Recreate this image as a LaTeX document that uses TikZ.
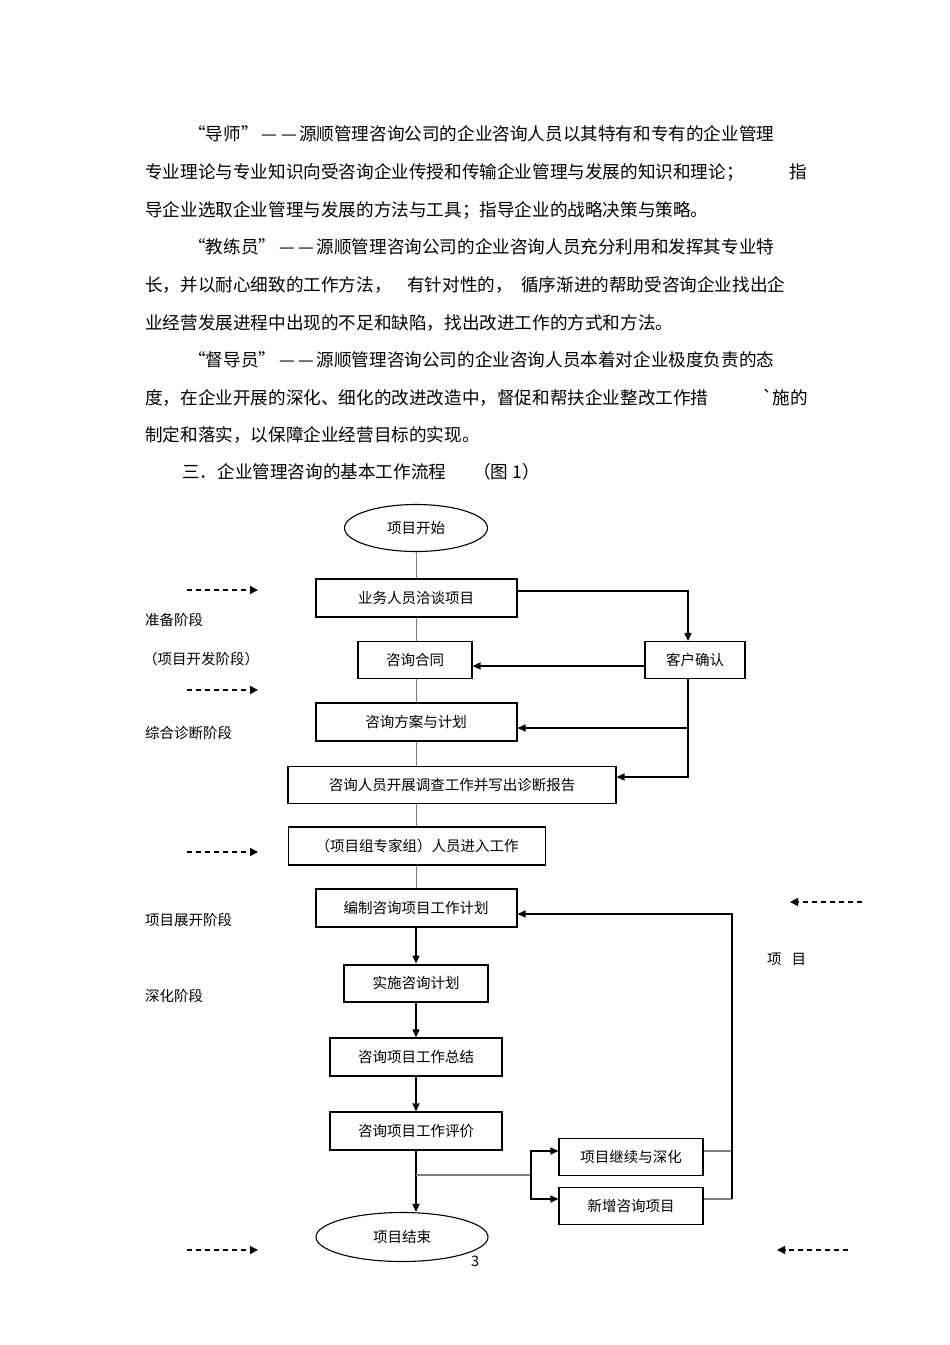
\documentclass[tikz,border=0pt]{standalone}
\usepackage{fontspec}
\setmainfont{Noto Sans CJK SC}
\usetikzlibrary{arrows.meta,shapes.geometric}

\begin{document}
\begin{tikzpicture}[x=1pt,y=-1pt,
  para/.style={anchor=west,inner sep=0pt,font=\fontsize{17.6}{20}\selectfont},
  lbl/.style={anchor=west,inner sep=0pt,font=\fontsize{14.5}{17}\selectfont},
  box/.style={draw,line width=1.1pt,inner sep=0pt,font=\fontsize{14.5}{17}\selectfont},
  heavy/.style={box,line width=2pt},
  oval/.style={ellipse,draw,line width=1.1pt,inner sep=0pt,font=\fontsize{14.5}{17}\selectfont},
  link/.style={draw=gray,line width=1pt},
  flow/.style={line width=1.5pt,-{Triangle[length=8pt,width=7pt]}},
  hint/.style={dash pattern=on 5pt off 4pt,line width=1.3pt,-{Triangle[length=8pt,width=8pt]}}]
\useasboundingbox (0,0) rectangle (950,1345);
% text above the chart
\node[para] at (188,134) (p1) {“导师”\hspace{3pt}—\hspace{4pt}—\hspace{2pt}源顺管理咨询公司的企业咨询人员以其特有和专有的企业管理};
\node[para] at (145,172) (p2) {专业理论与专业知识向受咨询企业传授和传输企业管理与发展的知识和理论；};
\node[para] at (789,172) (p2b) {指};
\node[para] at (145,210) (p3) {导企业选取企业管理与发展的方法与工具；指导企业的战略决策与策略。};
\node[para] at (188,247) (p4) {“教练员”\hspace{3pt}—\hspace{4pt}—\hspace{2pt}源顺管理咨询公司的企业咨询人员充分利用和发挥其专业特};
\node[para] at (145,285) (p5) {长，并以耐心细致的工作方法，};
\node[para] at (407,285) (p5b) {有针对性的，};
\node[para] at (521,285) (p5c) {循序渐进的帮助受咨询企业找出企};
\node[para] at (145,323) (p6) {业经营发展进程中出现的不足和缺陷，找出改进工作的方式和方法。};
\node[para] at (188,360) (p7) {“督导员”\hspace{3pt}—\hspace{4pt}—\hspace{2pt}源顺管理咨询公司的企业咨询人员本着对企业极度负责的态};
\node[para] at (145,398) (p8) {度，在企业开展的深化、细化的改进改造中，督促和帮扶企业整改工作措};
\node[para] at (762,398) (p8b) {\textasciigrave 施的};
\node[para] at (145,435) (p9) {制定和落实，以保障企业经营目标的实现。};
\node[para] at (182,472) (p10) {三．企业管理咨询的基本工作流程};
\node[para] at (473,472) (p10b) {（图 1）};

% chart
\node[oval,minimum width=143,minimum height=47] at (416,528) (start) {项目开始};
\node[heavy,minimum width=201,minimum height=38] at (416,598) (talk) {业务人员洽谈项目};
\node[box,minimum width=114,minimum height=37] at (415,660) (contract) {咨询合同};
\node[box,minimum width=100,minimum height=37] at (695,660) (confirm) {客户确认};
\node[heavy,minimum width=201,minimum height=38] at (416,722) (plan) {咨询方案与计划};
\node[box,minimum width=328,minimum height=37] at (452,785) (survey) {咨询人员开展调查工作并写出诊断报告};
\node[box,minimum width=257,minimum height=38] at (417,846) (team) {（项目组专家组）人员进入工作};
\node[heavy,minimum width=201,minimum height=38] at (416,908) (schedule) {编制咨询项目工作计划};
\node[heavy,minimum width=144,minimum height=37] at (416,983) (execute) {实施咨询计划};
\node[box,minimum width=172,minimum height=38] at (416,1057) (summary) {咨询项目工作总结};
\node[box,minimum width=172,minimum height=38] at (416,1131) (review) {咨询项目工作评价};
\node[box,minimum width=144,minimum height=37] at (631,1157) (deepen) {项目继续与深化};
\node[box,minimum width=144,minimum height=37] at (631,1206) (newproj) {新增咨询项目};
\node[oval,minimum width=172,minimum height=49] at (402,1237) (finish) {项目结束};
\node[lbl] at (471,1261) (page) {3};

% stage labels
\node[lbl] at (145,620) (s1) {准备阶段};
\node[lbl] at (143,659) (s1b) {（项目开发阶段）};
\node[lbl] at (145,733) (s2) {综合诊断阶段};
\node[lbl] at (145,920) (s3) {项目展开阶段};
\node[lbl] at (145,996) (s4) {深化阶段};
\node[lbl] at (767,959) (s5) {项\hspace{10pt}目};

% thin links
\draw[link] (start) -- (talk);
\draw[link] (talk.south) -- (talk.south |- contract.north);
\draw[link] (talk.south |- contract.south) -- (plan.north);
\draw[link] (plan.south) -- (plan.south |- survey.north);
\draw[link] (plan.south |- survey.south) -- (plan.south |- team.north);
\draw[link] (plan.south |- team.south) -- (schedule.north);

% arrows
\draw[flow] ([yshift=7pt]talk.east) -| ([xshift=-7pt]confirm.north);
\draw[flow] ([yshift=-6pt]confirm.west) -- ([yshift=-6pt]contract.east);
\draw[flow] ([xshift=-7pt]confirm.south) |- ([yshift=-6pt]plan.east);
\draw[flow] ([xshift=-7pt]confirm.south) |- ([yshift=8pt]survey.east);
\draw[flow] (schedule) -- (execute);
\draw[flow] (execute) -- (summary);
\draw[flow] (summary) -- (review);
\draw[flow] (review.south) -- (review.south |- finish.north);

\coordinate (split) at (416,1175);
\coordinate (fork) at (531,1175);
\coordinate (loop) at (732,1199);
\draw[link,line width=1.2pt] (split) -- (fork);
\draw[flow] (fork) |- ([yshift=6pt]deepen.west);
\draw[flow] (fork) |- ([yshift=7pt]newproj.west);
\draw[link,line width=1.2pt] ([yshift=6pt]deepen.east) -- ++(29,0);
\draw[link,line width=1.2pt] ([yshift=7pt]newproj.east) -- (loop);
\draw[flow] (loop) |- ([yshift=-6pt]schedule.east);

% dashed pointers
\coordinate (a1) at (187,590); \coordinate (a1e) at (258,590);
\coordinate (a2) at (187,690); \coordinate (a2e) at (258,690);
\coordinate (a3) at (187,852); \coordinate (a3e) at (258,852);
\coordinate (a4) at (187,1250); \coordinate (a4e) at (258,1250);
\coordinate (b1) at (862,902); \coordinate (b1e) at (790,902);
\coordinate (b2) at (848,1250); \coordinate (b2e) at (777,1250);
\draw[hint] (a1) -- (a1e);
\draw[hint] (a2) -- (a2e);
\draw[hint] (a3) -- (a3e);
\draw[hint] (a4) -- (a4e);
\draw[hint] (b1) -- (b1e);
\draw[hint] (b2) -- (b2e);
\end{tikzpicture}
\end{document}
